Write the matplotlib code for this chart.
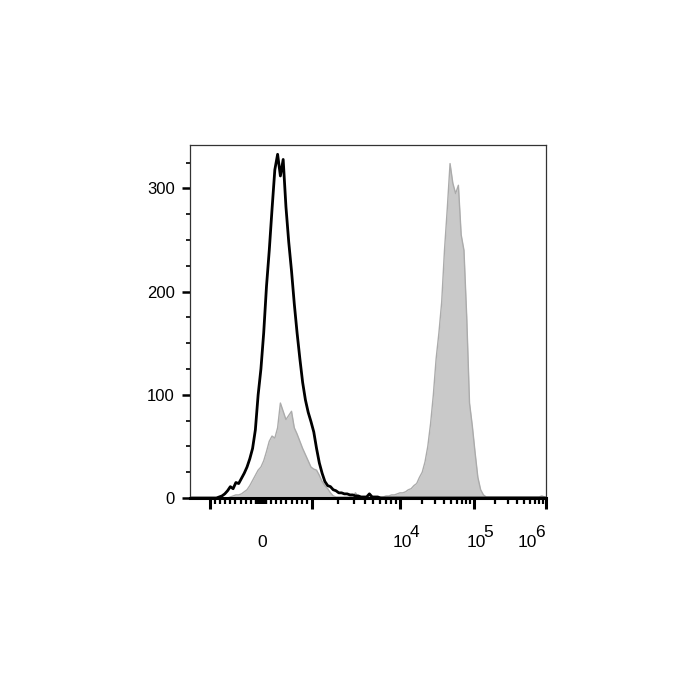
import numpy as np
import matplotlib
matplotlib.use("Agg")
import matplotlib.pyplot as plt
import matplotlib.transforms as mtransforms

plt.rcParams['font.family'] = ['Liberation Sans', 'DejaVu Sans']

# histogram counts, 128 display bins of 8 channels over 0..1024
black_counts = [0] * 10 + [
    1, 2, 4, 7, 11, 9, 15, 14, 19, 24,
    30, 38, 48, 66, 100, 125, 160, 205, 240, 280,
    318, 333, 312, 328, 282, 248, 220, 188, 160, 135,
    112, 95, 83, 74, 64, 48, 34, 24, 16, 12,
    11, 8, 7, 5, 5, 4, 4, 3, 3, 2,
    2, 1, 1, 1, 4, 1, 1, 1] + [0] * 60

gray_counts = [0] * 14 + [
    1, 2, 3, 3, 4, 6, 8, 12, 17, 22,
    27, 30, 36, 45, 55, 60, 58, 68, 92, 84,
    76, 80, 84, 68, 62, 55, 48, 42, 36, 30,
    28, 27, 22, 16, 12, 9, 5, 2, 1, 1,
    1, 1, 1, 1, 2, 5, 1, 1, 1, 1,
    1, 1, 1, 1, 1, 1, 2, 2, 3, 3,
    4, 5, 5, 6, 8, 9, 12, 14, 20, 25,
    35, 50, 72, 100, 135, 160, 190, 240, 280, 324,
    305, 295, 303, 255, 240, 175, 92, 70, 44, 20,
    8, 3, 1] + [1] * 19 + [2, 1]

# biexponential axis anchors: value -> display channel
lin_vals = [-1000, 0, 1000]
lin_chan = [57.5, 204.2, 350.9]
log_decades = [3, 4, 5, 6]
log_chan = [350.9, 604.0, 815.5, 1024.0]


def to_channel(v):
    v = np.asarray(v, dtype=float)
    out = np.interp(v, lin_vals, lin_chan)
    big = v > 1000
    out[big] = np.interp(np.log10(v[big]), log_decades, log_chan)
    return out


n_bins = len(black_counts)
centers = (np.arange(n_bins) + 0.5) * 1024 / n_bins

fig = plt.figure(figsize=(7, 7), dpi=100)
ax = fig.add_axes([190 / 700, 1 - 498 / 700, 356 / 700, 353 / 700])

ax.fill_between(centers, gray_counts, 0, color='#c9c9c9', lw=0)
ax.plot(centers, gray_counts, color='#ababab', lw=1.0)
ax.plot(centers, black_counts, color='black', lw=2.0)

ax.set_xlim(0, 1024)
ax.set_ylim(0, 342)

# x ticks
major_vals = [-1000, 1000, 1e4, 1e5, 1e6]
minor_vals = list(range(-900, 0, 100)) + list(range(-90, 100, 10)) + list(range(100, 1000, 100))
for d in [1e3, 1e4, 1e5]:
    minor_vals += [k * d for k in range(2, 10)]
ax.set_xticks(to_channel(major_vals))
ax.set_xticks(to_channel(minor_vals), minor=True)
ax.set_xticklabels([])
ax.tick_params(axis='x', which='major', direction='out', length=8, width=2.2, color='black')
ax.tick_params(axis='x', which='minor', direction='out', length=4.5, width=1.6, color='black')

# x labels: base "10" and full-size raised exponent
label_vals = [0, 1e4, 1e5, 1e6]
label_base = ['0', '10', '10', '10']
label_exp = ['', '4', '5', '6']
label_left = [-4, -7, -7, -28]   # px offset of left edge from tick
base = mtransforms.blended_transform_factory(ax.transData, ax.transAxes)
for v, b, e, dx in zip(label_vals, label_base, label_exp, label_left):
    x = to_channel([v])[0]
    tr = mtransforms.offset_copy(base, fig=fig, x=dx, y=0, units='dots')
    ax.text(x, -0.126, b, transform=tr, ha='left', va='center', fontsize=12.5)
    if e:
        tr2 = mtransforms.offset_copy(base, fig=fig, x=dx + 17, y=10, units='dots')
        ax.text(x, -0.126, e, transform=tr2, ha='left', va='center', fontsize=12.5)

# y ticks
ax.set_yticks([0, 100, 200, 300])
ax.set_yticks(np.arange(25, 342, 25), minor=True)
ax.tick_params(axis='y', which='major', direction='out', length=6, width=1.8, pad=5, labelsize=12)
ax.tick_params(axis='y', which='minor', direction='out', length=3, width=1.2)

for s in ['top', 'right', 'left']:
    ax.spines[s].set_linewidth(0.9)
    ax.spines[s].set_color('#333333')
ax.spines['bottom'].set_linewidth(2.2)
ax.spines['bottom'].set_color('black')

fig.savefig('out.png', dpi=100)
plt.close(fig)
